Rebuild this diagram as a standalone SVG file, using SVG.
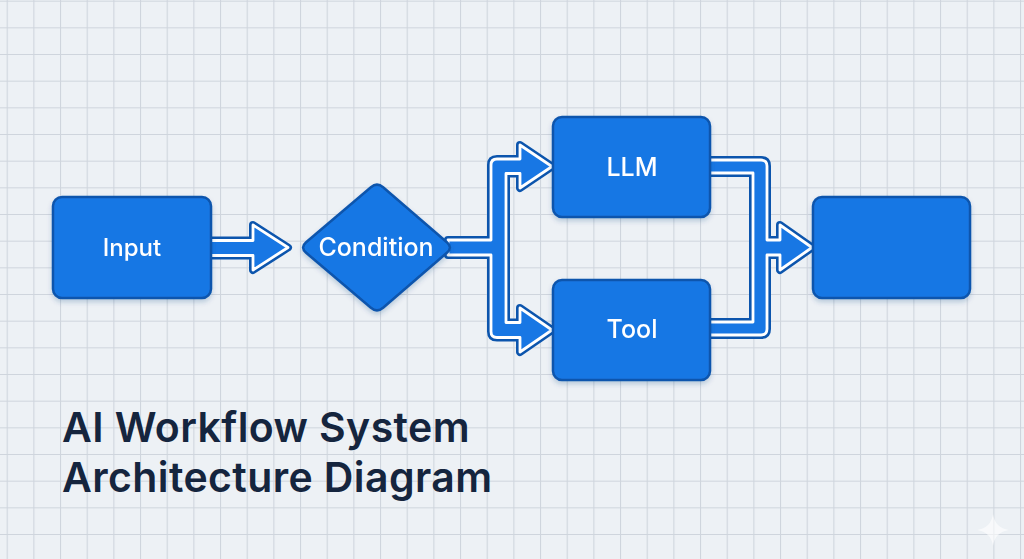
<svg xmlns="http://www.w3.org/2000/svg" width="1024" height="559" viewBox="0 0 1024 559">
<defs>
<pattern id="grid" patternUnits="userSpaceOnUse" x="6.67" y="0.67" width="26.667" height="26.667">
<path d="M0 0.5 H26.667 M0.5 0 V26.667" fill="none" stroke="#cfd5dd" stroke-width="1.2"/>
</pattern>
<filter id="sh" x="-10%" y="-10%" width="120%" height="130%">
<feDropShadow dx="0" dy="3" stdDeviation="2.5" flood-color="#0b3f80" flood-opacity="0.22"/>
</filter>
</defs>
<style>
.node{fill:#1877e4;stroke:#0c55ad;stroke-width:2.5}
.lbl{font-family:Inter,"Noto Sans","Liberation Sans",sans-serif;fill:#ffffff;text-anchor:middle;font-weight:500}
.cout{fill:none;stroke:#0c55ad;stroke-width:8;stroke-linejoin:round}
.cin{fill:#1877e4;stroke:#ffffff;stroke-width:2.8;stroke-linejoin:round}
.title{font-family:Inter,"Noto Sans","Liberation Sans",sans-serif;fill:#15253e;font-weight:600;font-size:41px;letter-spacing:0.4px}
</style>
<rect width="1024" height="559" fill="#edf1f5"/>
<rect width="1024" height="559" fill="url(#grid)"/>

<g id="connectors">
<g id="c-input-condition">
<path class="cout" d="M205 240.5 H253 V225 L288 247.5 L253 270 V255.5 H205 Z"/>
<path class="cin" d="M205 240.5 H253 V225 L288 247.5 L253 270 V255.5 H205 Z"/>
</g>
<g id="c-condition-branch">
<path class="cout" d="M448 240 H491 V165 Q491 159 497 159 H520 V145 L552 166.5 L520 188 V173.5 H506 V322.5 H520 V308 L552 330 L520 352 V337.5 H497 Q491 337.5 491 331.5 V255 H448 Z"/>
<path class="cin" d="M448 240 H491 V165 Q491 159 497 159 H520 V145 L552 166.5 L520 188 V173.5 H506 V322.5 H520 V308 L552 330 L520 352 V337.5 H497 Q491 337.5 491 331.5 V255 H448 Z"/>
</g>
<g id="c-merge-output">
<path class="cout" d="M704 160 H761 Q767 160 767 166 V240 H780 V225 L812 247.5 L780 270 V255 H767 V329 Q767 335 761 335 H704 V322 H753 V173 H704 Z"/>
<path class="cin" d="M704 160 H761 Q767 160 767 166 V240 H780 V225 L812 247.5 L780 270 V255 H767 V329 Q767 335 761 335 H704 V322 H753 V173 H704 Z"/>
</g>
</g>

<g id="node-input" filter="url(#sh)">
<rect class="node" x="53" y="197" width="158" height="101" rx="9"/>
<text class="lbl" x="132" y="256" font-size="24">Input</text>
</g>

<g id="node-condition" filter="url(#sh)">
<path class="node" d="M383.1 187.2 L446.9 242.3 Q453 247.5 446.9 252.7 L383.1 307.8 Q377 313 370.9 307.8 L306.1 252.7 Q300 247.5 306.1 242.3 L370.9 187.2 Q377 182 383.1 187.2 Z"/>
<text class="lbl" x="376" y="256" font-size="25">Condition</text>
</g>

<g id="node-llm" filter="url(#sh)">
<rect class="node" x="553" y="117" width="157" height="100" rx="9"/>
<text class="lbl" x="632" y="176" font-size="25">LLM</text>
</g>

<g id="node-tool" filter="url(#sh)">
<rect class="node" x="553" y="280" width="157" height="100" rx="9"/>
<text class="lbl" x="632" y="338" font-size="25">Tool</text>
</g>

<g id="node-output" filter="url(#sh)">
<rect class="node" x="813" y="197" width="157" height="101" rx="9"/>
</g>

<g id="title">
<text class="title" x="62" y="442">AI Workflow System</text>
<text class="title" x="62" y="492">Architecture Diagram</text>
</g>

<path d="M993 514 Q995 528 1009 530 Q995 532 993 546 Q991 532 977 530 Q991 528 993 514 Z" fill="#ffffff" opacity="0.6"/>
</svg>
